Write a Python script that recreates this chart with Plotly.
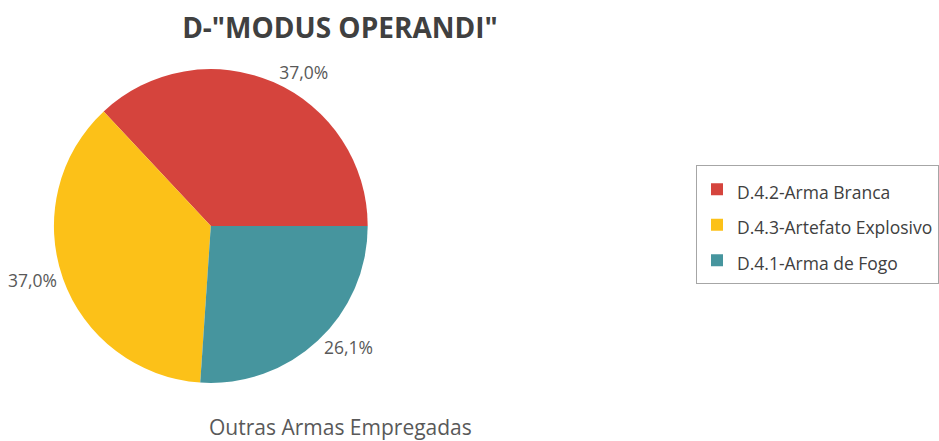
import plotly.graph_objects as go

categories = ["D.4.2-Arma Branca", "D.4.3-Artefato Explosivo", "D.4.1-Arma de Fogo"]
percentages = [37.0, 37.0, 26.1]
colors = ["#D5443D", "#FCC118", "#46959E"]

# first slice starts at 3 o'clock and runs counterclockwise
rotation = 90 - 360 * percentages[0] / sum(percentages)
legend_labels = ['<span style="font-size:17.5px">%s</span>' % c for c in categories]

fig = go.Figure(go.Pie(
    labels=legend_labels,
    values=percentages,
    sort=False,
    direction="counterclockwise",
    rotation=rotation,
    marker=dict(colors=colors, line=dict(width=0)),
    textposition="outside",
    texttemplate="%{percent:.1%}",
    textfont=dict(family="Open Sans", size=17.5, color="#595959"),
    domain=dict(x=[0.0575, 0.392], y=[0.1315, 0.8435]),
    hoverinfo="label+percent",
))

fig.update_layout(
    width=939, height=441,
    margin=dict(l=0, r=0, t=0, b=0),
    paper_bgcolor="white",
    separators=",.",
    font=dict(family="Open Sans", color="#404040"),
    title=dict(text='<b>D-"MODUS OPERANDI"</b>', x=0.362, xanchor="center",
               y=0.935, yanchor="middle",
               font=dict(family="Open Sans", size=28, color="#404040")),
    legend=dict(x=0.7423, xanchor="left", y=0.49, yanchor="middle",
                bordercolor="#A6A6A6", borderwidth=1,
                font=dict(family="Open Sans", size=25, color="#404040"),
                itemwidth=30),
    annotations=[dict(text="Outras Armas Empregadas", x=0.363, y=0.032,
                      xref="paper", yref="paper", xanchor="center", yanchor="middle",
                      showarrow=False,
                      font=dict(family="Open Sans", size=21, color="#595959"))],
)

fig.write_html("out.html", config={"displayModeBar": False},
               post_script="document.body.style.margin='0';")
